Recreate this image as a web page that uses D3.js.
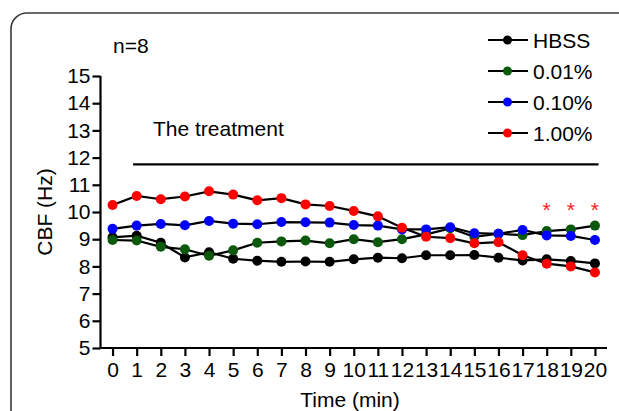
<!DOCTYPE html>
<html><head><meta charset="utf-8">
<script src="https://cdn.jsdelivr.net/npm/d3@7"></script>
<style>body{margin:0;background:#fff}svg{display:block;font-family:"Liberation Sans",Arial,sans-serif}</style>
</head><body>
<svg id="c" width="619" height="411"></svg>
<script>
const times = d3.range(0, 21);
const seriesNames = ["HBSS", "0.01%", "0.10%", "1.00%"];
const seriesColors = ["#000000", "#0b5a0b", "#0000ff", "#ff0000"];
const hbss = [9.07, 9.13, 8.87, 8.33, 8.52, 8.28, 8.21, 8.17, 8.18, 8.17, 8.26, 8.32, 8.30, 8.41, 8.41, 8.42, 8.32, 8.22, 8.26, 8.20, 8.11];
const pct001 = [8.97, 8.95, 8.72, 8.63, 8.39, 8.59, 8.87, 8.92, 8.95, 8.85, 9.00, 8.89, 9.00, 9.18, 9.40, 9.09, 9.20, 9.15, 9.30, 9.36, 9.50];
const pct010 = [9.38, 9.50, 9.56, 9.51, 9.67, 9.57, 9.55, 9.63, 9.62, 9.61, 9.52, 9.50, 9.36, 9.36, 9.44, 9.22, 9.20, 9.34, 9.14, 9.12, 8.97];
const pct100 = [10.26, 10.59, 10.47, 10.57, 10.76, 10.64, 10.43, 10.51, 10.28, 10.22, 10.04, 9.84, 9.42, 9.09, 9.04, 8.85, 8.89, 8.41, 8.10, 8.00, 7.78];
const yTicks = [5, 6, 7, 8, 9, 10, 11, 12, 13, 14, 15];
const sigTimes = [18, 19, 20];
const treatment = {label: "The treatment", start: 0.85, end: 20.15, level: 11.75};

const svg = d3.select("#c");
const x = d3.scaleLinear().domain([-0.5, 20.5]).range([100.5, 607]);
const y = d3.scaleLinear().domain([5, 15]).range([348, 76]);
const F = 21;

// frame
svg.append("rect").attr("x", 11).attr("y", 13).attr("width", 640).attr("height", 430)
  .attr("rx", 16).attr("fill", "none").attr("stroke", "#3a3a3a").attr("stroke-width", 1.6);

// axes
const ya = svg.append("g").attr("transform", "translate(100.5,0)")
  .call(d3.axisLeft(y).tickValues(yTicks).tickSize(8).tickPadding(2).tickSizeOuter(0));
const xa = svg.append("g").attr("transform", "translate(0,348)")
  .call(d3.axisBottom(x).tickValues(times).tickSize(8).tickPadding(6).tickSizeOuter(0));
[ya, xa].forEach(g => {
  g.selectAll("path,line").attr("stroke", "#000").attr("stroke-width", 2.2);
  g.selectAll("text").attr("font-size", F).attr("fill", "#000").attr("font-family", "Liberation Sans, Arial, sans-serif");
});
ya.select(".domain").attr("d", `M0,${y(15)}V${y(5)}`);
xa.select(".domain").attr("d", `M${x(-0.5)},0H${x(20.5)}`);

// axis labels
svg.append("text").attr("transform", `translate(52,212) rotate(-90)`).attr("text-anchor", "middle")
  .attr("font-size", F).text("CBF (Hz)");
svg.append("text").attr("x", 350).attr("y", 407).attr("text-anchor", "middle")
  .attr("font-size", F).text("Time (min)");

svg.append("text").attr("x", 113).attr("y", 53).attr("font-size", F).text("n=8");

// treatment bar
svg.append("line").attr("x1", x(treatment.start)).attr("x2", x(treatment.end))
  .attr("y1", y(treatment.level)).attr("y2", y(treatment.level)).attr("stroke", "#000").attr("stroke-width", 2.2);
svg.append("text").attr("x", 153).attr("y", 136).attr("font-size", F).text(treatment.label);

// series
const data = [hbss, pct001, pct010, pct100];
const line = d3.line().x((d, i) => x(times[i])).y(d => y(d));
data.forEach((vals, k) => {
  const g = svg.append("g");
  g.append("path").attr("d", line(vals)).attr("fill", "none").attr("stroke", "#000").attr("stroke-width", 2.2);
  g.selectAll("circle").data(vals).join("circle")
    .attr("cx", (d, i) => x(times[i])).attr("cy", d => y(d)).attr("r", 5)
    .attr("fill", seriesColors[k]);
});

// significance
svg.selectAll("text.sig").data(sigTimes).join("text").attr("class", "sig")
  .attr("x", d => x(d)).attr("y", 217).attr("text-anchor", "middle")
  .attr("font-size", 21).attr("fill", "#ff2020").text("*");

// legend
const leg = svg.append("g");
seriesNames.forEach((name, k) => {
  const yy = 40 + k * 31;
  leg.append("line").attr("x1", 488).attr("x2", 528).attr("y1", yy).attr("y2", yy).attr("stroke", "#000").attr("stroke-width", 2.2);
  leg.append("circle").attr("cx", 507.5).attr("cy", yy).attr("r", 4.5).attr("fill", seriesColors[k]);
  leg.append("text").attr("x", 533).attr("y", yy + 7.5).attr("font-size", F).text(name);
});
</script>
</body></html>
